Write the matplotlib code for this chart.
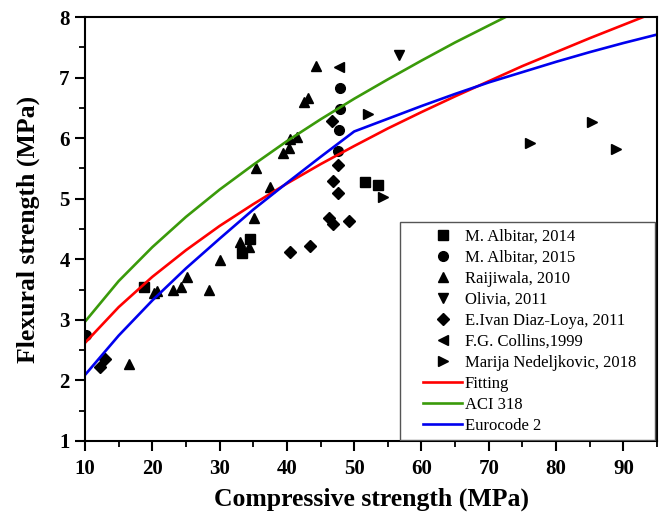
import matplotlib
matplotlib.use("Agg")
import matplotlib.pyplot as plt
from matplotlib.ticker import MultipleLocator
from matplotlib.patches import Rectangle

plt.rcParams['font.family'] = ['Liberation Serif', 'DejaVu Serif']

# ---- scatter data (compressive, flexural) ----
albitar2014_x = [18.7, 33.3, 34.5, 51.6, 53.6]
albitar2014_y = [3.54, 4.10, 4.33, 5.28, 5.23]

albitar2015_x = [10.1, 47.9, 47.9, 47.7, 47.6]
albitar2015_y = [2.75, 6.83, 6.48, 6.13, 5.79]

raijiwala_x = [16.5, 20.2, 20.7, 23.1, 24.2, 25.2, 28.4, 30.1, 33.1, 34.4,
               35.1, 37.5, 35.4, 39.4, 40.3, 40.5, 41.5, 42.6, 43.2, 44.3]
raijiwala_y = [2.27, 3.45, 3.48, 3.49, 3.54, 3.71, 3.50, 3.98, 4.29, 4.20,
               4.68, 5.19, 5.50, 5.76, 5.83, 5.98, 6.02, 6.60, 6.66, 7.19]

olivia_x = [56.6]
olivia_y = [7.37]

diazloya_x = [12.2, 12.9, 40.4, 43.5, 46.2, 46.9, 49.3, 46.8, 47.6, 47.6, 46.7]
diazloya_y = [2.22, 2.35, 4.12, 4.22, 4.68, 4.58, 4.64, 5.29, 5.09, 5.55, 6.29]

collins_x = [47.8]
collins_y = [7.17]

nedeljkovic_x = [52.0, 54.3, 76.2, 85.4, 88.9]
nedeljkovic_y = [6.40, 5.03, 5.92, 6.27, 5.82]

# ---- model curves ----
curve_x = [10, 15, 20, 25, 30, 35, 40, 45, 50, 55, 60, 65, 70, 75, 80, 85, 90, 95]
fitting_y = [2.62, 3.21, 3.71, 4.15, 4.55, 4.91, 5.25, 5.57, 5.87, 6.16, 6.43,
             6.69, 6.94, 7.19, 7.42, 7.65, 7.87, 8.09]
aci_x = [10, 15, 20, 25, 30, 35, 40, 45, 50, 55, 60, 65, 70, 72.5, 75]
aci_y = [2.97, 3.64, 4.20, 4.70, 5.15, 5.56, 5.95, 6.31, 6.65, 6.97, 7.28,
         7.58, 7.86, 8.00, 8.14]
ec2_y = [2.09, 2.74, 3.32, 3.85, 4.34, 4.82, 5.26, 5.69, 6.11, 6.32, 6.53,
         6.73, 6.92, 7.09, 7.26, 7.42, 7.57, 7.71]

fig = plt.figure(figsize=(6.66, 5.17), dpi=100)
ax = fig.add_axes([85/666, 1-441/517, (657-85)/666, (441-17)/517])

mk = dict(color='black', linestyle='none', markersize=7.5)
ax.plot(albitar2014_x, albitar2014_y, marker='s', label='M. Albitar, 2014', markersize=6.5, color='black', linestyle='none')
ax.plot(albitar2015_x, albitar2015_y, marker='o', label='M. Albitar, 2015', markersize=7, color='black', linestyle='none')
ax.plot(raijiwala_x, raijiwala_y, marker='^', label='Raijiwala, 2010', **mk)
ax.plot(olivia_x, olivia_y, marker='v', label='Olivia, 2011', **mk)
ax.plot(diazloya_x, diazloya_y, marker='D', label='E.Ivan Diaz-Loya, 2011', markersize=6, color='black', linestyle='none')
ax.plot(collins_x, collins_y, marker='<', label='F.G. Collins,1999', **mk)
ax.plot(nedeljkovic_x, nedeljkovic_y, marker='>', label='Marija Nedeljkovic, 2018', **mk)

ax.plot(curve_x, fitting_y, color='#ff0000', lw=1.9, label='Fitting')
ax.plot(aci_x, aci_y, color='#3a9a0a', lw=1.9, label='ACI 318')
ax.plot(curve_x, ec2_y, color='#0000ee', lw=1.9, label='Eurocode 2')

ax.set_xlim(10, 95)
ax.set_ylim(1, 8)
ax.xaxis.set_major_locator(MultipleLocator(10))
ax.xaxis.set_minor_locator(MultipleLocator(5))
ax.yaxis.set_major_locator(MultipleLocator(1))
ax.yaxis.set_minor_locator(MultipleLocator(0.5))
ax.tick_params(which='major', direction='out', length=7, width=1.5, labelsize=15)
ax.tick_params(axis='x', which='major', pad=6)
ax.tick_params(axis='y', which='major', pad=4)
ax.tick_params(which='minor', direction='out', length=4, width=1.3)
for lab in ax.get_xticklabels() + ax.get_yticklabels():
    lab.set_fontweight('bold')
for s in ax.spines.values():
    s.set_linewidth(1.5)

ax.set_xlabel('Compressive strength (MPa)', fontsize=18.5, fontweight='bold', labelpad=6)
ax.set_ylabel('Flexural strength (MPa)', fontsize=18.5, fontweight='bold', labelpad=14)

# legend frame
x0, x1 = (400-85)/572, (655-85)/572
y0, y1 = (441-440)/424, (441-222)/424
ax.add_patch(Rectangle((x0, y0), x1-x0, y1-y0, transform=ax.transAxes,
                       facecolor='white', edgecolor='#555555', lw=1.0, zorder=4))
leg = ax.legend(loc='upper left', bbox_to_anchor=((423-85)/572, (441-229)/424),
                fontsize=12, frameon=False, borderaxespad=0, borderpad=0,
                handlelength=2.35, handletextpad=0.15, labelspacing=0.3)
leg.set_zorder(5)

fig.savefig('out.png', dpi=100)
